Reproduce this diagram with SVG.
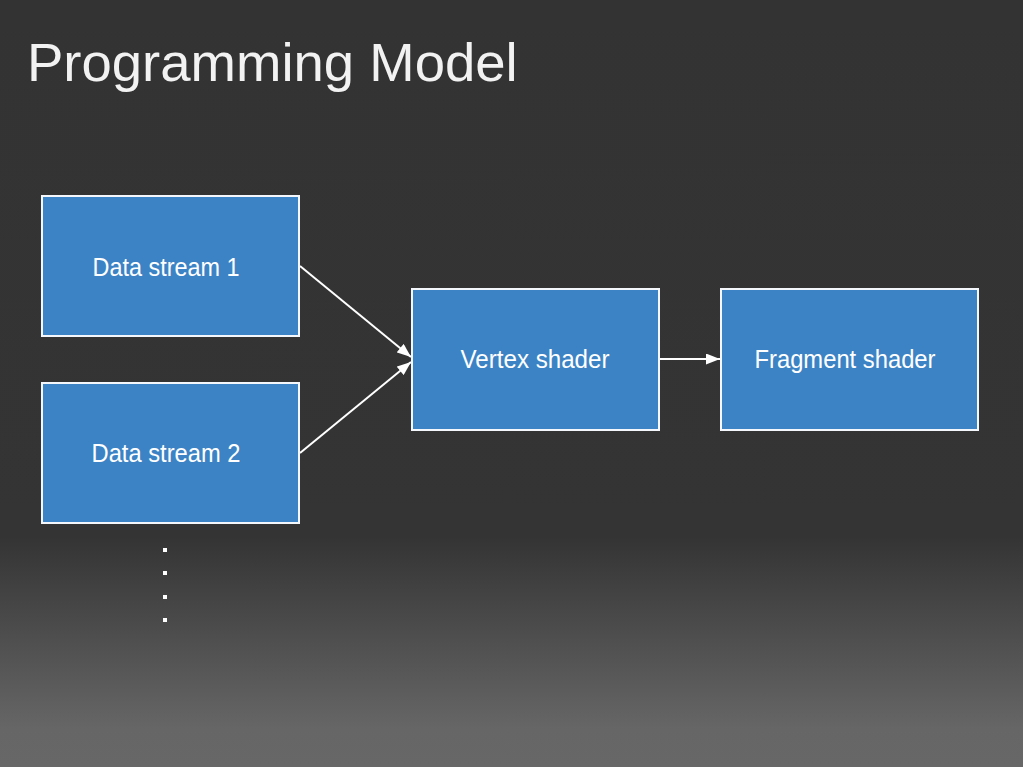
<svg xmlns="http://www.w3.org/2000/svg" width="1023" height="767" viewBox="0 0 1023 767">
<style>
.box{fill:#3c83c5;stroke:#f4f8fc;stroke-width:2}
.lbl{font-family:"Liberation Sans",Arial,sans-serif;font-size:25px;fill:#ffffff;text-anchor:middle}
.conn{stroke:#ffffff;stroke-width:2;fill:none}
</style>
<defs>
<linearGradient id="bg" x1="0" y1="0" x2="0" y2="1">
<stop offset="0" stop-color="#333333"/>
<stop offset="0.70" stop-color="#343434"/>
<stop offset="0.95" stop-color="#666666"/>
<stop offset="1" stop-color="#676767"/>
</linearGradient>
<marker id="ah" viewBox="0 0 14 11" refX="14" refY="5.5" markerWidth="14" markerHeight="11" markerUnits="userSpaceOnUse" orient="auto">
<path d="M0,0 L14,5.5 L0,11 z" fill="#ffffff"/>
</marker>
</defs>
<rect x="0" y="0" width="1023" height="767" fill="url(#bg)"/>
<text x="27" y="81" font-family="Liberation Sans,Arial,sans-serif" font-size="54.5" fill="#f2f2f2">Programming Model</text>
<g id="connectors">
<line class="conn" x1="300" y1="266" x2="411" y2="357" marker-end="url(#ah)"/>
<line class="conn" x1="300" y1="453" x2="411" y2="362" marker-end="url(#ah)"/>
<line class="conn" x1="660" y1="359" x2="720" y2="359" marker-end="url(#ah)"/>
</g>
<g id="ds1">
<rect class="box" x="42" y="196" width="257" height="140"/>
<text class="lbl" x="166" y="276" textLength="147" lengthAdjust="spacingAndGlyphs">Data stream 1</text>
</g>
<g id="ds2">
<rect class="box" x="42" y="383" width="257" height="140"/>
<text class="lbl" x="166" y="462" textLength="149" lengthAdjust="spacingAndGlyphs">Data stream 2</text>
</g>
<g id="vs">
<rect class="box" x="412" y="289" width="247" height="141"/>
<text class="lbl" x="535" y="368" textLength="149" lengthAdjust="spacingAndGlyphs">Vertex shader</text>
</g>
<g id="fs">
<rect class="box" x="721" y="289" width="257" height="141"/>
<text class="lbl" x="845" y="368" textLength="181" lengthAdjust="spacingAndGlyphs">Fragment shader</text>
</g>
<g id="dots" fill="#ffffff">
<rect x="163" y="548" width="4" height="4"/>
<rect x="163" y="571" width="4" height="4"/>
<rect x="163" y="595" width="4" height="4"/>
<rect x="163" y="618" width="4" height="4"/>
</g>
</svg>
